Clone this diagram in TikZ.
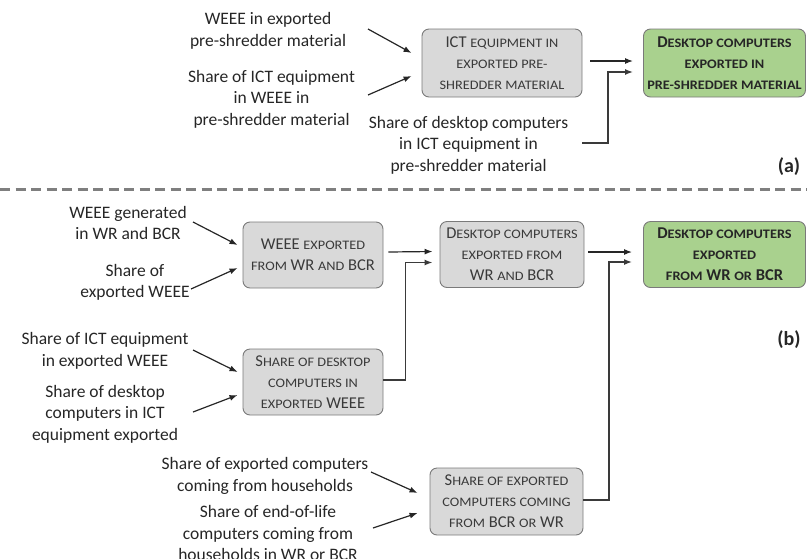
\documentclass[tikz,border=0pt]{standalone}
\usepackage{fontspec}
\setmainfont{Carlito}
\newfontfamily\widefont[FakeStretch=1.1]{Carlito}
% small capitals built from widened, reduced capitals
\newcommand\sm[1]{{\widefont\fontsize{13}{21}\selectfont\MakeUppercase{#1}}}
\usetikzlibrary{arrows.meta,calc}
\definecolor{boxgray}{HTML}{D9D9D9}
\definecolor{boxgreen}{HTML}{A9D18E}
\definecolor{edge}{HTML}{7A7A7A}
\definecolor{ink}{HTML}{262626}
\definecolor{boxink}{HTML}{3A3A3A}
\definecolor{rule}{HTML}{7F7F7F}
\begin{document}
\begin{tikzpicture}[x=1pt,y=-1pt,
  lbl/.style={align=center,font=\fontsize{17.5}{21.5}\selectfont,text=ink,inner sep=0pt},
  gbox/.style={draw=edge,line width=0.9pt,fill=boxgray,rounded corners=7pt,align=center,
    font=\fontsize{16.5}{21}\selectfont,text=boxink,inner sep=0pt},
  greenbox/.style={gbox,fill=boxgreen,font=\fontsize{16.5}{21}\selectfont\bfseries,text=ink},
  arr/.style={draw=ink,line width=1.2pt,-{Latex[length=8pt,width=6pt]}},
  elbow/.style={arr,draw=boxink,line width=1.5pt},
  tag/.style={font=\fontsize{20}{24}\selectfont\bfseries,text=ink,inner sep=0pt}]
\useasboundingbox (0,0) rectangle (807,558);

% ---------- (a) pre-shredder material ----------
\node[gbox,minimum width=160pt,minimum height=68pt] (ict) at (502,63)
  {ICT \sm{equipment in}\\\sm{exported pre-}\\\sm{shredder material}};
\node[greenbox,minimum width=162pt,minimum height=68pt] (gtop) at (724.5,63)
  {D\sm{esktop computers}\\\sm{exported in}\\\sm{pre-shredder material}};

\node[lbl] (la1) at (268,31) {WEEE in exported\\pre-shredder material};
\node[lbl] (la2) at (271.5,99) {Share of ICT equipment\\in WEEE in\\pre-shredder material};
\node[lbl] (la3) at (468.5,145) {Share of desktop computers\\in ICT equipment in\\pre-shredder material};

\coordinate (sa1) at (368,29);
\coordinate (sa2) at (368,95);
\coordinate (sa3) at (582,143);
\draw[arr] (sa1) -- ($(ict.west)+(-10,-10)$);
\draw[arr] (sa2) -- ($(ict.west)+(-10,13)$);
\draw[arr] ($(ict.east)+(8,-2)$) -- ($(gtop.west)+(-10,-2)$);
\draw[elbow] (sa3) -| ($(gtop.west)+(-35,9)$) -- ($(gtop.west)+(-10,9)$);

\node[tag] (ta) at (789,167) {(a)};

% ---------- separator ----------
\coordinate (sepL) at (0,189);
\coordinate (sepR) at (807,189);
\draw[rule,line width=3pt,dash pattern=on 10pt off 5.5pt] (sepL) -- (sepR);

% ---------- (b) WR and BCR ----------
\node[gbox,minimum width=140pt,minimum height=66pt] (weee) at (313,255)
  {WEEE \sm{exported}\\\sm{from} WR \sm{and} BCR};
\node[gbox,minimum width=140pt,minimum height=66pt] (shd) at (313,382)
  {S\sm{hare of desktop}\\\sm{computers in}\\\sm{exported} WEEE};
\node[gbox,minimum width=144pt,minimum height=66pt] (dsk) at (512,254.5)
  {D\sm{esktop computers}\\\sm{exported from}\\WR \sm{and} BCR};
\node[greenbox,minimum width=162pt,minimum height=66pt] (gbot) at (724.5,254.5)
  {D\sm{esktop computers}\\\sm{exported}\\\sm{from} WR \sm{or} BCR};
\node[gbox,minimum width=153pt,minimum height=67pt] (shx) at (506.5,501.5)
  {S\sm{hare of exported}\\\sm{computers coming}\\\sm{from} BCR \sm{or} WR};

\node[lbl] (lb1) at (128,223) {WEEE generated\\in WR and BCR};
\node[lbl] (lb2) at (135,282.5) {Share of\\exported WEEE};
\node[lbl] (lb3) at (105,351) {Share of ICT equipment\\in exported WEEE};
\node[lbl] (lb4) at (105,414) {Share of desktop\\computers in ICT\\equipment exported};
\node[lbl] (lb5) at (265,476) {Share of exported computers\\coming from households};
\node[lbl] (lb6) at (268,533) {Share of end-of-life\\computers coming from\\households in WR or BCR};

\coordinate (sb1) at (193,222);
\coordinate (sb2) at (191,289);
\coordinate (sb3) at (193,350);
\coordinate (sb4) at (193,412);
\coordinate (sb5) at (371,472);
\coordinate (sb6) at (373,528);
\draw[arr] (sb1) -- ($(weee.west)+(-5,-10)$);
\draw[arr] (sb2) -- ($(weee.west)+(-5,13)$);
\draw[arr] (sb3) -- ($(shd.west)+(-5,-10)$);
\draw[arr] (sb4) -- ($(shd.west)+(-5,13)$);
\draw[arr] (sb5) -- ($(shx.west)+(-12,-8.5)$);
\draw[arr] (sb6) -- ($(shx.west)+(-12,11.5)$);

\draw[arr] ($(weee.east)+(5,-3)$) -- ($(dsk.west)+(-7,-3)$);
\draw[elbow] ($(shd.east)+(0,-2)$) -| ($(dsk.west)+(-34,8)$) -- ($(dsk.west)+(-7,8)$);
\draw[arr] ($(dsk.east)+(4,-2.5)$) -- ($(gbot.west)+(-11,-2.5)$);
\draw[elbow] ($(shx.east)+(0,-1.5)$) -| ($(gbot.west)+(-34,7.5)$) -- ($(gbot.west)+(-11,7.5)$);

\node[tag] (tb) at (789,340) {(b)};
\end{tikzpicture}
\end{document}
